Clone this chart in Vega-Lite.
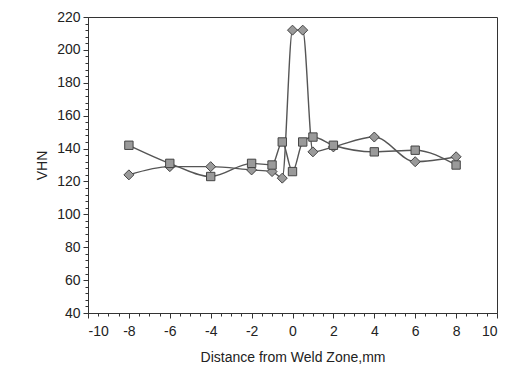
{
  "$schema": "https://vega.github.io/schema/vega-lite/v6.json",
  "width": 409,
  "height": 296,
  "autosize": {"type": "none"},
  "padding": {"left": 88, "top": 17, "right": 11, "bottom": 56},
  "background": "#ffffff",
  "config": {
    "view": {"stroke": "#333333", "strokeWidth": 1},
    "font": "Liberation Sans",
    "axis": {
      "grid": false,
      "domainColor": "#333333",
      "tickColor": "#333333",
      "labelColor": "#222222",
      "titleColor": "#222222",
      "labelFont": "Liberation Sans",
      "titleFont": "Liberation Sans",
      "labelFontSize": 14,
      "titleFontSize": 14,
      "titleFontWeight": "normal",
      "labelOverlap": false
    }
  },
  "data": {
    "values": [
      {"series": "A", "x": -8, "y": 124},
      {"series": "A", "x": -6, "y": 129},
      {"series": "A", "x": -4, "y": 129},
      {"series": "A", "x": -2, "y": 127},
      {"series": "A", "x": -1, "y": 126},
      {"series": "A", "x": -0.5, "y": 122},
      {"series": "A", "x": 0, "y": 212},
      {"series": "A", "x": 0.5, "y": 212},
      {"series": "A", "x": 1, "y": 138},
      {"series": "A", "x": 2, "y": 141},
      {"series": "A", "x": 4, "y": 147},
      {"series": "A", "x": 6, "y": 132},
      {"series": "A", "x": 8, "y": 135},
      {"series": "B", "x": -8, "y": 142},
      {"series": "B", "x": -6, "y": 131},
      {"series": "B", "x": -4, "y": 123},
      {"series": "B", "x": -2, "y": 131},
      {"series": "B", "x": -1, "y": 130},
      {"series": "B", "x": -0.5, "y": 144},
      {"series": "B", "x": 0, "y": 126},
      {"series": "B", "x": 0.5, "y": 144},
      {"series": "B", "x": 1, "y": 147},
      {"series": "B", "x": 2, "y": 142},
      {"series": "B", "x": 4, "y": 138},
      {"series": "B", "x": 6, "y": 139},
      {"series": "B", "x": 8, "y": 130}
    ]
  },
  "encoding": {
    "x": {
      "field": "x",
      "type": "quantitative",
      "scale": {"domain": [-10, 10], "nice": false, "zero": false},
      "axis": {
        "title": "Distance from Weld Zone,mm",
        "values": [-10,-9.5,-9,-8.5,-8,-7.5,-7,-6.5,-6,-5.5,-5,-4.5,-4,-3.5,-3,-2.5,-2,-1.5,-1,-0.5,0,0.5,1,1.5,2,2.5,3,3.5,4,4.5,5,5.5,6,6.5,7,7.5,8,8.5,9,9.5,10],
        "labelExpr": "datum.value % 2 === 0 ? '' + datum.value : ''",
        "tickSize": {"condition": {"test": "datum.value % 2 === 0", "value": 5}, "value": 3},
        "labelPadding": 6,
        "titlePadding": 12
      }
    },
    "y": {
      "field": "y",
      "type": "quantitative",
      "scale": {"domain": [40, 220], "nice": false, "zero": false},
      "axis": {
        "title": "VHN",
        "values": [40,44,48,52,56,60,64,68,72,76,80,84,88,92,96,100,104,108,112,116,120,124,128,132,136,140,144,148,152,156,160,164,168,172,176,180,184,188,192,196,200,204,208,212,216,220],
        "labelExpr": "datum.value % 20 === 0 ? '' + datum.value : ''",
        "tickSize": {"condition": {"test": "datum.value % 20 === 0", "value": 5}, "value": 3},
        "labelPadding": 3,
        "titlePadding": 7
      }
    }
  },
  "layer": [
    {
      "mark": {"type": "line", "interpolate": "monotone", "color": "#555555", "strokeWidth": 1.4},
      "encoding": {"detail": {"field": "series"}}
    },
    {
      "mark": {"type": "point", "filled": true, "fill": "#9a9a9a", "stroke": "#444444", "strokeWidth": 1, "opacity": 1},
      "encoding": {
        "shape": {
          "field": "series",
          "scale": {"domain": ["A", "B"], "range": ["diamond", "square"]},
          "legend": null
        },
        "size": {
          "field": "series",
          "scale": {"domain": ["A", "B"], "range": [100, 70]},
          "legend": null
        }
      }
    }
  ]
}
